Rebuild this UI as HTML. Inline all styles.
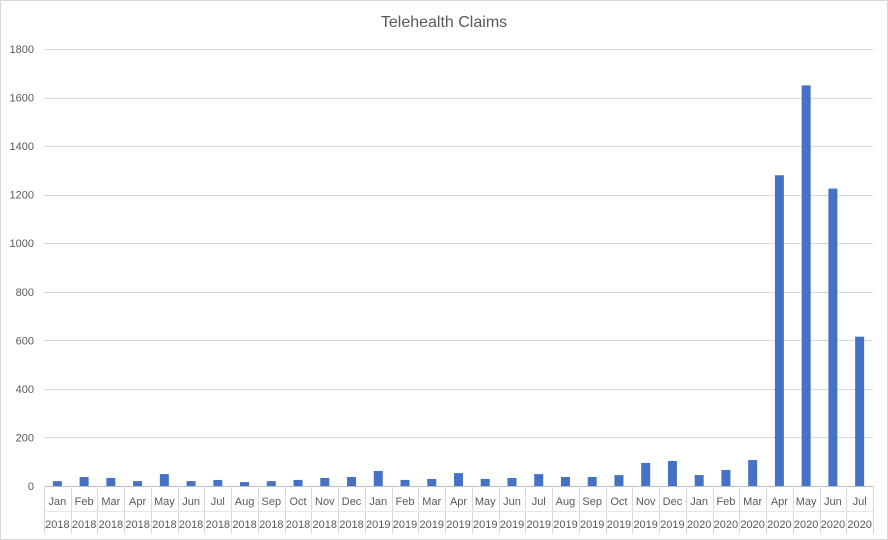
<!DOCTYPE html>
<html><head><meta charset="utf-8"><style>
body{margin:0;background:#fff;}
svg{display:block;font-family:"Liberation Sans",sans-serif;}
</style></head><body>
<svg id="chart" width="888" height="540">
<rect x="0.5" y="0.5" width="887" height="539" fill="#fff" stroke="#d9d9d9"/>
<text x="444" y="27" text-anchor="middle" font-size="16" fill="#595959">Telehealth Claims</text>
<g id="grid"></g><g id="bars"></g><g id="xaxis"></g>
</svg>
<script>
const months=["Jan","Feb","Mar","Apr","May","Jun","Jul","Aug","Sep","Oct","Nov","Dec","Jan","Feb","Mar","Apr","May","Jun","Jul","Aug","Sep","Oct","Nov","Dec","Jan","Feb","Mar","Apr","May","Jun","Jul"];
const years=["2018","2018","2018","2018","2018","2018","2018","2018","2018","2018","2018","2018","2019","2019","2019","2019","2019","2019","2019","2019","2019","2019","2019","2019","2020","2020","2020","2020","2020","2020","2020"];
const claims=[20,37,33,20,49,20,25,16,20,25,33,37,62,25,29,53,29,33,49,37,37,45,95,103,45,66,107,1280,1650,1225,615];
const yTicks=[0,200,400,600,800,1000,1200,1400,1600,1800];
const NS="http://www.w3.org/2000/svg";
const x0=44,x1=873,y0=486,yTop=49,yMax=1800;
const bw=(x1-x0)/claims.length;
function y(v){return y0-(v/yMax)*(y0-yTop);}
function x(i){return x0+i*bw;}
function mk(t,a,p){const e=document.createElementNS(NS,t);for(const k in a)e.setAttribute(k,a[k]);p.appendChild(e);return e;}
const g=document.getElementById('grid'),b=document.getElementById('bars'),xa=document.getElementById('xaxis');
yTicks.forEach(t=>{
 const l=mk('line',{x1:x0,x2:x1,y1:Math.round(y(t))+0.5,y2:Math.round(y(t))+0.5,stroke:t===0?'#bfbfbf':'#d9d9d9','stroke-width':1},g);
 
 
 const tx=mk('text',{x:34,y:y(t)+4,'text-anchor':'end','font-size':11,fill:'#595959'},g);
 tx.textContent=t;
 
 
});
claims.forEach((v,i)=>{
 const r=mk('rect',{x:x(i)+bw/2-4.5,y:y(v),width:9,height:y0-y(v),fill:'#4472c4'},b);
 
 
 const m=mk('text',{x:x(i)+bw/2,y:505,'text-anchor':'middle','font-size':11,fill:'#595959'},xa);
 m.textContent=months[i];
 
 
 const yr=mk('text',{x:x(i)+bw/2,y:528,'text-anchor':'middle','font-size':11,fill:'#595959'},xa);
 yr.textContent=years[i];
 
 
});
for(let i=0;i<=claims.length;i++){
 const sx=Math.round(x(i))+0.5;
 const l=mk('line',{x1:sx,x2:sx,y1:486,y2:534,stroke:'#d9d9d9','stroke-width':1},xa);
 
 
}
const l2=mk('line',{x1:x0,x2:x1,y1:511.5,y2:511.5,stroke:'#e6e6e6','stroke-width':1},xa);


</script>
</body></html>
